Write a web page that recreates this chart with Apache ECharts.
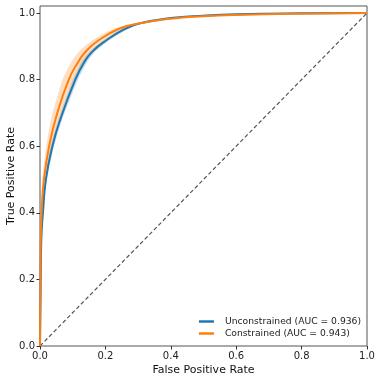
<!DOCTYPE html>
<html><head><meta charset="utf-8">
<script src="https://cdn.jsdelivr.net/npm/echarts@6/dist/echarts.min.js"></script>
<style>html,body{margin:0;padding:0;background:#fff}#c{width:381px;height:381px}</style>
</head><body><div id="c"></div>
<script>
// Unconstrained (blue)
const unconFpr = [0, 0.002, 0.004, 0.009, 0.018, 0.038, 0.062, 0.108, 0.135, 0.160, 0.200, 0.260, 0.306, 0.40, 0.50, 0.60, 0.80, 1.0];
const unconTpr = [0, 0.18, 0.32, 0.40, 0.50, 0.60, 0.68, 0.80, 0.852, 0.884, 0.916, 0.952, 0.969, 0.985, 0.992, 0.996, 0.999, 1.0];
const unconBand = [0, 0.0005, 0.001, 0.002, 0.003, 0.005, 0.006, 0.008, 0.009, 0.009, 0.009, 0.008, 0.006, 0.004, 0.002, 0.001, 0, 0];
// Constrained (orange)
const conFpr = [0, 0.001, 0.002, 0.005, 0.012, 0.028, 0.050, 0.088, 0.115, 0.138, 0.175, 0.240, 0.306, 0.40, 0.50, 0.60, 0.80, 1.0];
const conTpr = [0, 0.15, 0.30, 0.40, 0.50, 0.60, 0.69, 0.80, 0.85, 0.882, 0.915, 0.952, 0.969, 0.983, 0.990, 0.994, 0.998, 1.0];
const conBand = [0, 0.0005, 0.001, 0.002, 0.005, 0.009, 0.014, 0.019, 0.021, 0.021, 0.020, 0.017, 0.012, 0.008, 0.005, 0.003, 0.001, 0];
// Chance diagonal
const diagX = [0, 1];
const diagY = [0, 1];
const xTicks = [0, 0.2, 0.4, 0.6, 0.8, 1.0];
const yTicks = [0, 0.2, 0.4, 0.6, 0.8, 1.0];
const names = ['Unconstrained (AUC = 0.936)', 'Constrained (AUC = 0.943)'];

const BLUE = '#1f77b4', ORANGE = '#ff7f0e';
const pairs = (xs, ys) => xs.map((x, i) => [x, ys[i]]);

function bandSeries(fpr, tpr, band, color) {
  return {
    type: 'custom', silent: true, z: 1,
    data: [[0, 0]],
    renderItem: function (params, api) {
      const up = [], lo = [];
      for (let i = 0; i < fpr.length; i++) {
        up.push(api.coord([Math.max(0, fpr[i] - band[i]), tpr[i]]));
        lo.push(api.coord([Math.min(1, fpr[i] + band[i]), tpr[i]]));
      }
      const pts = up.concat(lo.reverse());
      return { type: 'polygon', shape: { points: pts, smooth: 0.2 }, style: { fill: color } };
    }
  };
}

const chart = echarts.init(document.getElementById('c'), null, { renderer: 'canvas' });
const labelFmt = v => v.toFixed(1);
chart.setOption({
  animation: false,
  textStyle: { fontFamily: 'DejaVu Sans' },
  grid: { left: 40, right: 14, top: 6, bottom: 35, containLabel: false, outerBoundsMode: 'none',
    show: true, borderColor: '#555', borderWidth: 1, backgroundColor: 'transparent' },
  xAxis: {
    type: 'value', min: 0, max: 1,
    name: 'False Positive Rate', nameLocation: 'middle', nameGap: 19, nameMoveOverlap: false,
    nameTextStyle: { fontSize: 11, color: '#111' },
    axisLine: { show: false },
    axisTick: { show: true, length: 3.5, lineStyle: { color: '#333' }, customValues: xTicks },
    axisLabel: { fontSize: 10, color: '#222', margin: 5, formatter: labelFmt, customValues: xTicks },
    splitLine: { show: false }
  },
  yAxis: {
    type: 'value', min: 0, max: 1.021,
    name: 'True Positive Rate', nameLocation: 'middle', nameGap: 23, nameMoveOverlap: false,
    nameTextStyle: { fontSize: 11, color: '#111' },
    axisLine: { show: false },
    axisTick: { show: true, length: 3.5, lineStyle: { color: '#333' }, customValues: yTicks },
    axisLabel: { fontSize: 10, color: '#222', margin: 5, formatter: labelFmt, customValues: yTicks },
    splitLine: { show: false }
  },
  legend: {
    orient: 'vertical', right: 15, top: 312, itemGap: 3,
    itemWidth: 15, itemHeight: 2.5, icon: 'rect',
    textStyle: { fontSize: 9.2, color: '#222', fontFamily: 'DejaVu Sans', padding: [0, 0, 0, 6] },
    data: names
  },
  series: [
    {
      type: 'line', silent: true, z: 2, symbol: 'none',
      data: pairs(diagX, diagY),
      lineStyle: { color: '#555', width: 1.2, type: [4, 2.5] }
    },
    bandSeries(unconFpr, unconTpr, unconBand, 'rgba(31,119,180,0.25)'),
    bandSeries(conFpr, conTpr, conBand, 'rgba(255,127,14,0.25)'),
    {
      name: names[0], type: 'line', z: 3, symbol: 'none', smooth: 0.5,
      data: pairs(unconFpr, unconTpr),
      lineStyle: { color: BLUE, width: 2 }, itemStyle: { color: BLUE }
    },
    {
      name: names[1], type: 'line', z: 4, symbol: 'none', smooth: 0.5,
      data: pairs(conFpr, conTpr),
      lineStyle: { color: ORANGE, width: 2 }, itemStyle: { color: ORANGE }
    }
  ]
});
</script></body></html>
